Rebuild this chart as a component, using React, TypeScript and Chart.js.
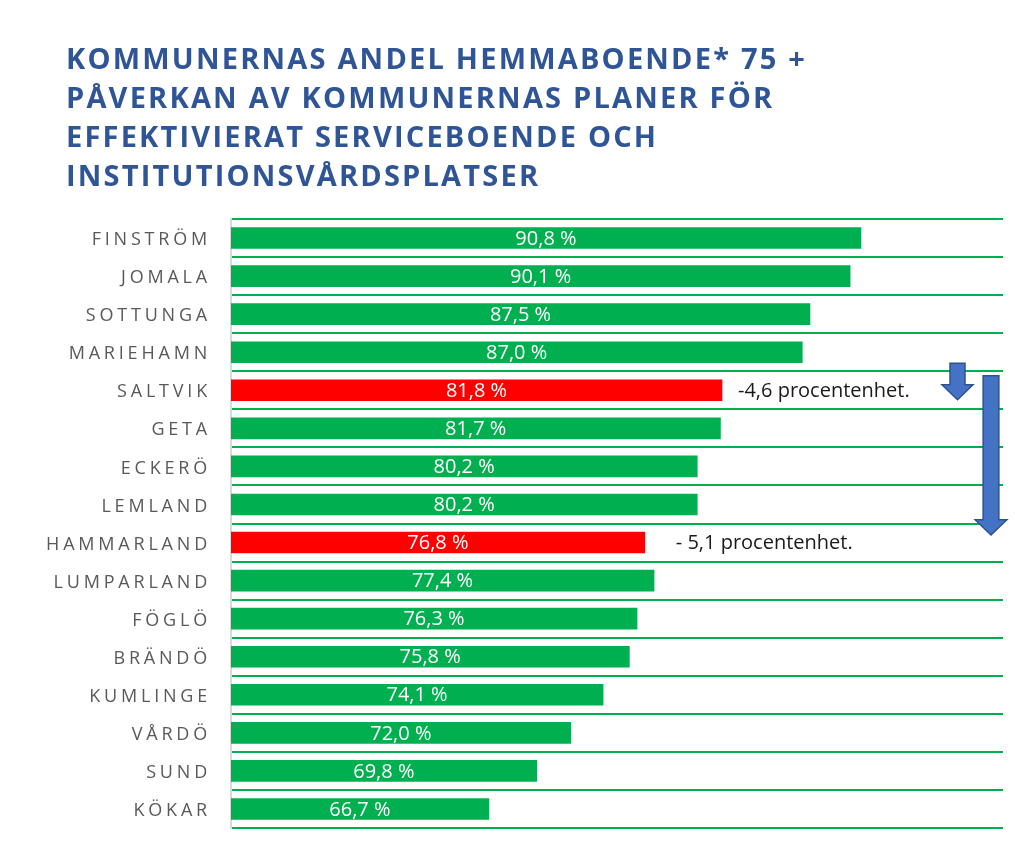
import React, { useEffect, useRef } from "react";
import { Chart, registerables } from "chart.js";

Chart.register(...registerables);

const titleLines = [
  "KOMMUNERNAS ANDEL HEMMABOENDE* 75 +",
  "PÅVERKAN AV KOMMUNERNAS PLANER FÖR",
  "EFFEKTIVIERAT SERVICEBOENDE OCH",
  "INSTITUTIONSVÅRDSPLATSER",
];

const categories = [
  "FINSTRÖM",
  "JOMALA",
  "SOTTUNGA",
  "MARIEHAMN",
  "SALTVIK",
  "GETA",
  "ECKERÖ",
  "LEMLAND",
  "HAMMARLAND",
  "LUMPARLAND",
  "FÖGLÖ",
  "BRÄNDÖ",
  "KUMLINGE",
  "VÅRDÖ",
  "SUND",
  "KÖKAR",
];

const values = [90.8, 90.1, 87.5, 87.0, 81.8, 81.7, 80.2, 80.2, 76.8, 77.4, 76.3, 75.8, 74.1, 72.0, 69.8, 66.7];

const changedCategories = ["SALTVIK", "HAMMARLAND"];
const changeTexts = ["-4,6 procentenhet.", "- 5,1 procentenhet."];

const axisMin = 50;
const axisMax = 100;

const GREEN = "#00B050";
const RED = "#FF0000";

function fmt(v: number) {
  return v.toFixed(1).replace(".", ",") + " %";
}

const letterSpacingPlugin = {
  id: "letterSpacingTicks",
  beforeDraw(chart: any) {
    (chart.ctx as any).letterSpacing = "3.8px";
  },
  beforeDatasetsDraw(chart: any) {
    (chart.ctx as any).letterSpacing = "0px";
  },
};

const labelsPlugin = {
  id: "barLabels",
  afterDatasetsDraw(chart: any) {
    const ctx = chart.ctx;
    const meta = chart.getDatasetMeta(0);
    const left = chart.chartArea.left;
    ctx.save();
    (ctx as any).letterSpacing = "0px";
    ctx.textBaseline = "middle";
    meta.data.forEach((el: any, i: number) => {
      const base = Math.max(el.base, left);
      ctx.font = '20px "Open Sans"';
      ctx.fillStyle = "#FFFFFF";
      ctx.textAlign = "center";
      ctx.fillText(fmt(values[i]), (el.x + base) / 2, el.y + 1);
      const ci = changedCategories.indexOf(categories[i]);
      if (ci >= 0) {
        const gaps = [16, 31];
        ctx.font = '20px "Open Sans"';
        ctx.fillStyle = "#1A1A1A";
        ctx.textAlign = "left";
        ctx.fillText(changeTexts[ci], el.x + gaps[ci], el.y + 1);
      }
    });
    ctx.restore();
  },
};

function drawArrow(ctx: CanvasRenderingContext2D, cx: number, shaftW: number, headW: number, top: number, headStart: number, tip: number) {
  ctx.beginPath();
  ctx.moveTo(cx - shaftW / 2, top);
  ctx.lineTo(cx + shaftW / 2, top);
  ctx.lineTo(cx + shaftW / 2, headStart);
  ctx.lineTo(cx + headW / 2, headStart);
  ctx.lineTo(cx, tip);
  ctx.lineTo(cx - headW / 2, headStart);
  ctx.lineTo(cx - shaftW / 2, headStart);
  ctx.closePath();
  ctx.fillStyle = "#4472C4";
  ctx.fill();
  ctx.lineWidth = 1.5;
  ctx.strokeStyle = "#2F528F";
  ctx.stroke();
}

const arrowsPlugin = {
  id: "arrows",
  afterDraw(chart: any) {
    const ctx = chart.ctx;
    const y = chart.scales.y;
    const right = chart.chartArea.right;
    const a = categories.indexOf(changedCategories[0]);
    const b = categories.indexOf(changedCategories[1]);
    const ca = y.getPixelForValue(a);
    const cb = y.getPixelForValue(b);
    ctx.save();
    drawArrow(ctx, right - 45.5, 15, 31, ca - 27, ca - 5.6, ca + 9.4);
    drawArrow(ctx, right - 12, 15.7, 31.7, ca - 14.6, cb - 22.8, cb - 7.5);
    ctx.restore();
  },
};

export default function App() {
  const ref = useRef<HTMLCanvasElement | null>(null);

  useEffect(() => {
    document.body.style.margin = "0";
    if (!ref.current) return;
    const chart = new Chart(ref.current, {
      type: "bar",
      data: {
        labels: categories,
        datasets: [
          {
            data: values,
            base: axisMin,
            backgroundColor: categories.map((c) => (changedCategories.includes(c) ? RED : GREEN)),
            barThickness: 21,
            borderWidth: 0,
          },
        ],
      },
      options: {
        indexAxis: "y",
        animation: false,
        responsive: false,
        maintainAspectRatio: false,
        layout: { padding: { top: 219, bottom: 26, right: 12, left: 0 } },
        plugins: {
          legend: { display: false },
          tooltip: { enabled: false },
          title: { display: false },
        },
        scales: {
          x: { display: false, min: axisMin, max: axisMax },
          y: {
            offset: true,
            grid: { color: GREEN, lineWidth: 2, drawTicks: false, offset: true },
            border: { display: true, color: "#D9D9D9", width: 2 },
            ticks: {
              color: "#595959",
              font: { family: "Open Sans", size: 18 },
              padding: 20,
              labelOffset: 2,
            },
            afterFit(scale: any) {
              scale.width = 231;
              scale.paddingTop = 0;
              scale.paddingBottom = 0;
            },
          },
        },
      },
      plugins: [letterSpacingPlugin, labelsPlugin, arrowsPlugin],
    } as any);
    return () => chart.destroy();
  }, []);

  return (
    <div style={{ position: "relative", width: 1015, height: 854, background: "#fff" }}>
      <canvas ref={ref} width={1015} height={854} style={{ position: "absolute", left: 0, top: 0 }} />
      <div
        style={{
          position: "absolute",
          left: 66,
          top: 38,
          fontFamily: '"Open Sans", sans-serif',
          fontWeight: 700,
          fontSize: 29,
          lineHeight: "39px",
          letterSpacing: "2.2px",
          color: "#2F5597",
          whiteSpace: "nowrap",
        }}
      >
        {titleLines.map((l, i) => (
          <div key={i}>{l}</div>
        ))}
      </div>
    </div>
  );
}
